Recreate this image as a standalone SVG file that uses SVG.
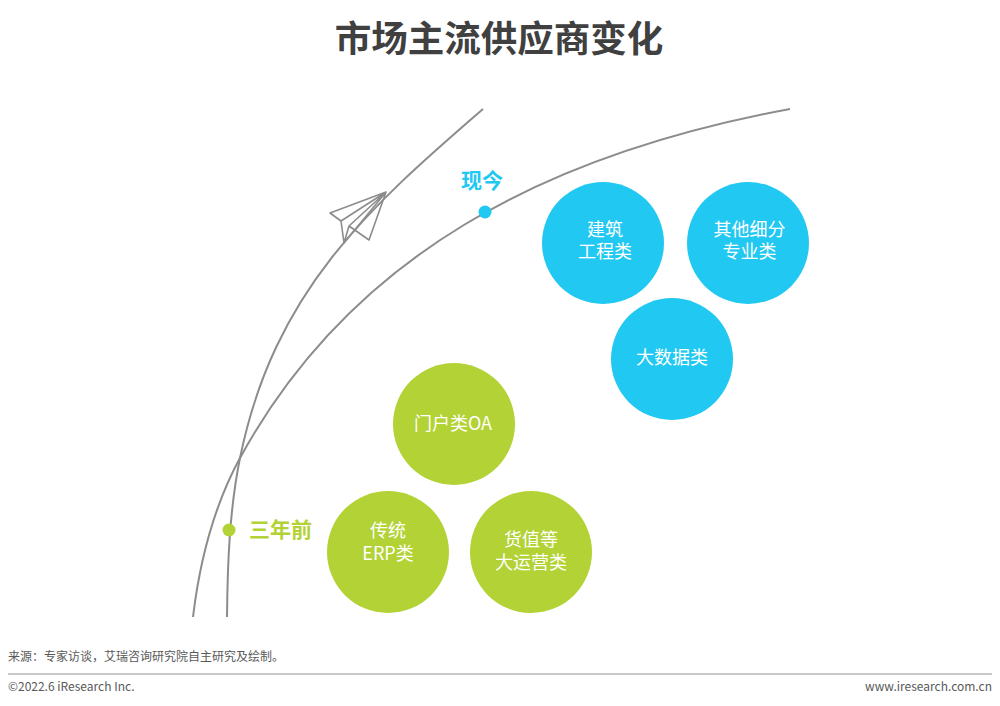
<svg xmlns="http://www.w3.org/2000/svg" width="1000" height="706" viewBox="0 0 1000 706">
<style>
.t{font-family:"Noto Sans CJK SC","Liberation Sans",sans-serif;}
.title{font-size:36.5px;font-weight:bold;fill:#404040;}
.ct{font-size:18px;fill:#ffffff;text-anchor:middle;}
.blue{fill:#21C8F2;}
.green{fill:#B2D235;}
.curve{fill:none;stroke:#8c8c8c;stroke-width:2;}
.plane{fill:none;stroke:#8c8c8c;stroke-width:1.6;stroke-linejoin:round;}
.lbl{font-size:21px;font-weight:bold;}
.foot{font-size:12px;fill:#595959;}
</style>
<rect width="1000" height="706" fill="#ffffff"/>
<text class="t title" x="499" y="52" text-anchor="middle">市场主流供应商变化</text>
<g id="connectors">
<path id="curve-now" class="curve" d="M193,617 C199.6,562 213.6,506.4 240,458 C350.4,255.6 544.25,154.75 790,109"/>
<path id="curve-plane" class="curve" d="M227,617 C227.5,565 229.4,510 240,458 C274,291 369.6,207 483,109"/>
</g>
<g id="plane">
<path class="plane" d="M386,192 L330,213 L341,221 Z M341,221 L344,243 L386,192 M386,192 L369,240 L349,226 Z M349,226 L344,243"/>
</g>
<g id="label-now">
<circle class="blue" cx="485" cy="212" r="6.5"/>
<text class="t lbl" x="482" y="188" text-anchor="middle" fill="#21C8F2">现今</text>
</g>
<g id="label-before">
<circle class="green" cx="229" cy="530" r="6.5"/>
<text class="t lbl" x="249" y="537" fill="#B2D235">三年前</text>
</g>
<g id="node-construction">
<circle class="blue" cx="603" cy="243" r="61"/>
<text class="t ct" x="605" y="235.5"><tspan x="605">建筑</tspan><tspan x="605" dy="22.5">工程类</tspan></text>
</g>
<g id="node-other">
<circle class="blue" cx="748" cy="243" r="61"/>
<text class="t ct" x="749.5" y="235.5"><tspan x="749.5">其他细分</tspan><tspan x="749.5" dy="22.5">专业类</tspan></text>
</g>
<g id="node-bigdata">
<circle class="blue" cx="672" cy="359" r="61"/>
<text class="t ct" x="672" y="364">大数据类</text>
</g>
<g id="node-oa">
<circle class="green" cx="454" cy="424" r="61"/>
<text class="t ct" x="453" y="430">门户类OA</text>
</g>
<g id="node-erp">
<circle class="green" cx="388" cy="552" r="61"/>
<text class="t ct" x="388" y="537"><tspan x="388">传统</tspan><tspan x="388" dy="23">ERP类</tspan></text>
</g>
<g id="node-ops">
<circle class="green" cx="531" cy="552" r="61"/>
<text class="t ct" x="531" y="546"><tspan x="531">货值等</tspan><tspan x="531" dy="23">大运营类</tspan></text>
</g>
<g id="footer">
<text class="t foot" x="8" y="661">来源：专家访谈，艾瑞咨询研究院自主研究及绘制。</text>
<line x1="8" y1="674" x2="992" y2="674" stroke="#c8c8c8" stroke-width="2"/>
<text class="t foot" x="8" y="691">©2022.6 iResearch Inc.</text>
<text class="t foot" x="992" y="691" text-anchor="end">www.iresearch.com.cn</text>
</g>
</svg>
